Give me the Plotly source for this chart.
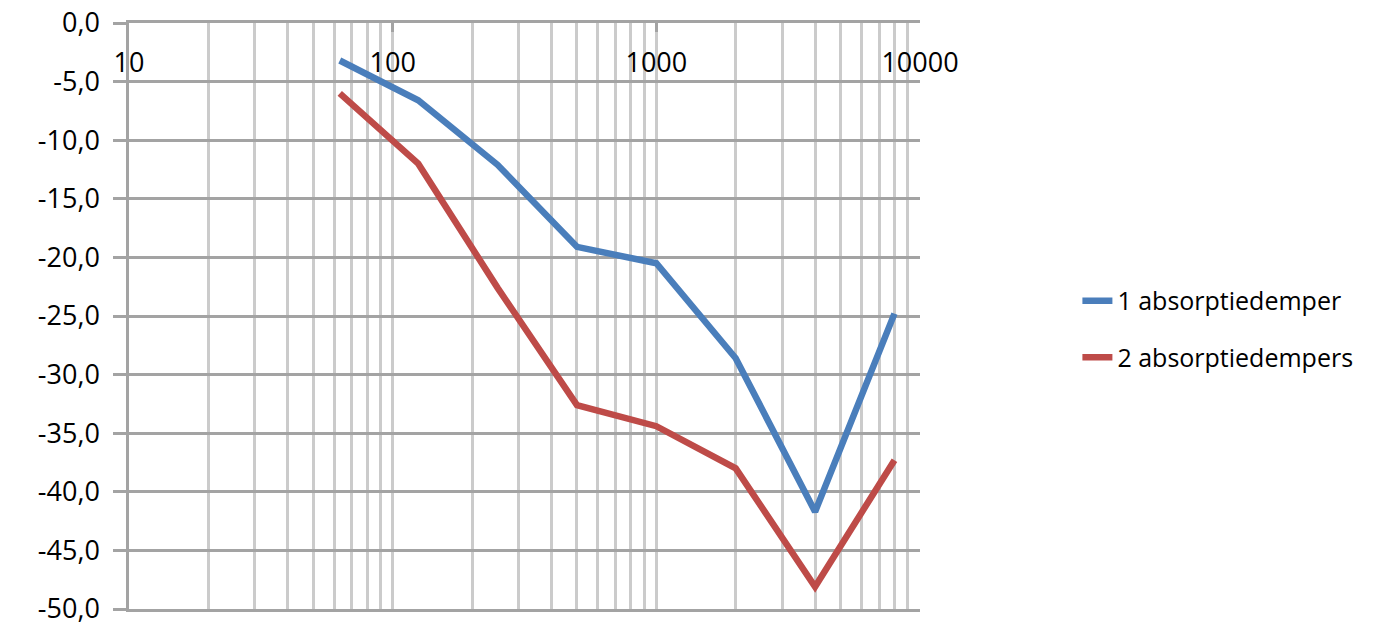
import plotly.graph_objects as go

# ---- data ----
freq = [63, 125, 250, 500, 1000, 2000, 4000, 8000]
one_damper = [-3.2, -6.6, -12.1, -19.1, -20.5, -28.6, -41.7, -24.8]
two_dampers = [-6.0, -12.0, -22.6, -32.6, -34.4, -38.0, -48.1, -37.3]
series_names = ["1 absorptiedemper", "2 absorptiedempers"]

y_tickvals = [0, -5, -10, -15, -20, -25, -30, -35, -40, -45, -50]
y_ticktext = ["0,0", "-5,0", "-10,0", "-15,0", "-20,0", "-25,0", "-30,0",
              "-35,0", "-40,0", "-45,0", "-50,0"]
x_major = [10, 100, 1000, 10000]
x_labels = ["10", "100", "1000", "10000"]
x_minor = [20, 30, 40, 50, 60, 70, 80, 90,
           200, 300, 400, 500, 600, 700, 800, 900,
           2000, 3000, 4000, 5000, 6000, 7000, 8000, 9000]

BLUE = "#4A7EBB"
RED = "#BE4B48"
GRID_H = "#A3A3A3"
GRID_V = "#CBCBCB"
FONT = "Open Sans"
FS_TICK = 27
FS_LEG = 25

fig = go.Figure()
fig.add_trace(go.Scatter(x=freq, y=one_damper, mode="lines", name=series_names[0],
                         line=dict(color=BLUE, width=6.5), legendgroup="a"))
fig.add_trace(go.Scatter(x=freq, y=two_dampers, mode="lines", name=series_names[1],
                         line=dict(color=RED, width=6.5), legendgroup="b"))
# helper (invisible) trace so the label-only overlay axis is rendered
fig.add_trace(go.Scatter(x=x_major, y=[None] * len(x_major), xaxis="x2",
                         mode="lines", showlegend=False, hoverinfo="skip"))

fig.update_layout(
    template="none",
    width=1399, height=626,
    margin=dict(l=129, r=479, t=23, b=17),
    paper_bgcolor="white", plot_bgcolor="white",
    font=dict(family=FONT, size=FS_TICK, color="black"),
    showlegend=True,
    legend=dict(x=1.199, y=0.565, xanchor="left", yanchor="top",
                font=dict(family=FONT, size=FS_LEG), tracegroupgap=21,
                bgcolor="rgba(0,0,0,0)"),
    xaxis=dict(type="log", range=[1, 4], side="top", automargin=False,
               showline=True, linecolor=GRID_H, linewidth=2.5, mirror=True,
               tickvals=x_major, showticklabels=False,
               ticks="inside", ticklen=9, tickcolor=GRID_H, tickwidth=2.5,
               showgrid=True, gridcolor=GRID_V, gridwidth=2.5, zeroline=False,
               minor=dict(tickvals=x_minor, showgrid=True, gridcolor=GRID_V,
                          gridwidth=2.5, ticks="")),
    xaxis2=dict(type="log", range=[1, 4], overlaying="x", anchor="free",
                position=0.964, side="bottom", tickvals=x_major, ticktext=x_labels,
                showgrid=False, showline=False, ticks="", zeroline=False,
                automargin=False, ticklabeloverflow="allow",
                tickfont=dict(family=FONT, size=FS_TICK, color="black")),
    yaxis=dict(range=[-50, 0], tickvals=y_tickvals, ticktext=y_ticktext,
               automargin=False, ticklabeloverflow="allow",
               showline=True, linecolor=GRID_H, linewidth=2.5,
               ticks="outside", ticklen=13, tickcolor=GRID_H, tickwidth=2.5,
               ticklabelstandoff=8,
               showgrid=True, gridcolor=GRID_H, gridwidth=2.5, zeroline=False,
               tickfont=dict(family=FONT, size=FS_TICK, color="black")),
)

# remove the default 8px page margin so the figure fills the window exactly
fig.write_html("out.html", config={"displayModeBar": False},
               post_script="document.body.style.margin='0';")
